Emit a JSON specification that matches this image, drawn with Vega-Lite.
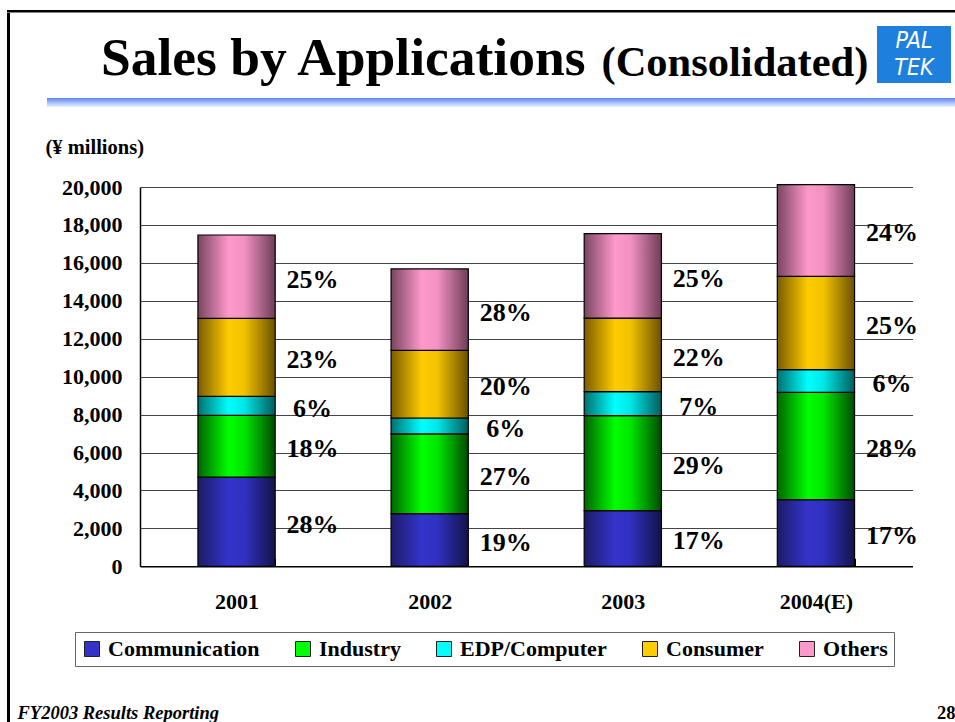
{
  "$schema": "https://vega.github.io/schema/vega-lite/v6.json",
  "background": "white",
  "padding": {"left": 7, "top": 10, "right": 0, "bottom": 0},
  "config": {"view": {"stroke": null}, "font": "Liberation Serif"},
  "bounds": "flush",
  "spacing": 0,
  "vconcat": [
    {"width": 948, "height": 2.5, "data": {"values": [{}]}, "mark": {"type": "rect", "color": "black"}, "encoding": {}},
    {
      "bounds": "flush", "spacing": 0,
      "hconcat": [
        {"width": 3, "height": 710, "data": {"values": [{}]}, "mark": {"type": "rect", "color": "black"}, "encoding": {}}
      ]
    },
    {
      "bounds": "flush", "spacing": 0,
      "hconcat": [
        {"width": 571, "height": 1, "data": {"values": [{}]}, "mark": {"type": "rect", "opacity": 0}, "encoding": {}},
        {
          "bounds": "flush", "spacing": 0,
          "vconcat": [
            {"width": 15, "height": 40, "data": {"values": [{}]}, "mark": {"type": "rect", "opacity": 0}, "encoding": {}},
            {"width": 15, "height": 44, "data": {"values": [{}]}, "mark": {"type": "text", "text": "Sales by Applications", "align": "right", "baseline": "alphabetic", "font": "Liberation Serif", "fontWeight": "bold", "fontSize": 53.5, "color": "black"}, "encoding": {}}
          ]
        },
        {"width": 16, "height": 1, "data": {"values": [{}]}, "mark": {"type": "rect", "opacity": 0}, "encoding": {}},
        {
          "bounds": "flush", "spacing": 0,
          "vconcat": [
            {"width": 15, "height": 42, "data": {"values": [{}]}, "mark": {"type": "rect", "opacity": 0}, "encoding": {}},
            {"width": 15, "height": 42, "data": {"values": [{}]}, "mark": {"type": "text", "text": "(Consolidated)", "align": "left", "baseline": "alphabetic", "font": "Liberation Serif", "fontWeight": "bold", "fontSize": 42.5, "color": "black"}, "encoding": {}}
          ]
        },
        {"width": 283, "height": 1, "data": {"values": [{}]}, "mark": {"type": "rect", "opacity": 0}, "encoding": {}},
        {
          "bounds": "flush", "spacing": 0,
          "vconcat": [
            {"width": 74, "height": 12.5, "data": {"values": [{}]}, "mark": {"type": "rect", "opacity": 0}, "encoding": {}},
            {
              "width": 74, "height": 57,
              "data": {"values": [{}]},
              "layer": [
                {"mark": {"type": "rect", "color": "#1f7fdc"}, "encoding": {}},
                {"mark": {"type": "text", "text": ["PAL", "TEK"], "lineHeight": 27, "dy": -13.5, "align": "center", "baseline": "middle", "font": "'Liberation Sans Narrow', 'DejaVu Sans Condensed', sans-serif", "fontStyle": "italic", "fontSize": 23, "color": "white"}, "encoding": {}}
              ]
            }
          ]
        }
      ]
    },
    {"width": 10, "height": 84.5, "data": {"values": [{}]}, "mark": {"type": "rect", "opacity": 0}, "encoding": {}},
    {
      "bounds": "flush", "spacing": 0,
      "hconcat": [
        {"width": 40, "height": 9, "data": {"values": [{}]}, "mark": {"type": "rect", "opacity": 0}, "encoding": {}},
        {"width": 908, "height": 9, "data": {"values": [{}]}, "mark": {"type": "rect", "fill": {"gradient": "linear", "x1": 0, "y1": 0, "x2": 0, "y2": 1, "stops": [{"offset": 0, "color": "#5c84ee"}, {"offset": 0.5, "color": "#a3bdf6"}, {"offset": 1, "color": "#eaf1ff"}]}}, "encoding": {}}
      ]
    },
    {"width": 10, "height": 89, "data": {"values": [{}]}, "mark": {"type": "rect", "opacity": 0}, "encoding": {}},
    {
      "bounds": "flush", "spacing": 0,
      "hconcat": [
        {"width": 133, "height": 10, "data": {"values": [{}]}, "mark": {"type": "rect", "opacity": 0}, "encoding": {}},
        {
          "width": 772.5,
          "height": 379.3,
          "data": {"values": [
            {"year": "2001", "cat": "Communication", "value": 4700, "label": "28%"},
            {"year": "2001", "cat": "Industry", "value": 3260, "label": "18%"},
            {"year": "2001", "cat": "EDP/Computer", "value": 1000, "label": "6%"},
            {"year": "2001", "cat": "Consumer", "value": 4110, "label": "23%"},
            {"year": "2001", "cat": "Others", "value": 4400, "label": "25%"},
            {"year": "2002", "cat": "Communication", "value": 2780, "label": "19%"},
            {"year": "2002", "cat": "Industry", "value": 4200, "label": "27%"},
            {"year": "2002", "cat": "EDP/Computer", "value": 840, "label": "6%"},
            {"year": "2002", "cat": "Consumer", "value": 3570, "label": "20%"},
            {"year": "2002", "cat": "Others", "value": 4290, "label": "28%"},
            {"year": "2003", "cat": "Communication", "value": 2940, "label": "17%"},
            {"year": "2003", "cat": "Industry", "value": 5010, "label": "29%"},
            {"year": "2003", "cat": "EDP/Computer", "value": 1260, "label": "7%"},
            {"year": "2003", "cat": "Consumer", "value": 3880, "label": "22%"},
            {"year": "2003", "cat": "Others", "value": 4450, "label": "25%"},
            {"year": "2004(E)", "cat": "Communication", "value": 3520, "label": "17%"},
            {"year": "2004(E)", "cat": "Industry", "value": 5650, "label": "28%"},
            {"year": "2004(E)", "cat": "EDP/Computer", "value": 1200, "label": "6%"},
            {"year": "2004(E)", "cat": "Consumer", "value": 4920, "label": "25%"},
            {"year": "2004(E)", "cat": "Others", "value": 4840, "label": "24%"}
          ]},
          "transform": [
            {"stack": "value", "groupby": ["year"], "as": ["y0", "y1"]}
          ],
          "encoding": {
            "x": {
              "field": "year", "type": "nominal",
              "scale": {"paddingInner": 0.6, "paddingOuter": 0.3},
              "axis": {
                "labelAngle": 0, "labelFont": "Liberation Serif", "labelFontSize": 22, "labelFontWeight": "bold", "labelColor": "black", "labelPadding": 33,
                "domainColor": "black", "domainWidth": 1.5,
                "ticks": true, "tickColor": "black", "tickSize": -8, "tickBand": "extent", "tickWidth": 1,
                "grid": false,
                "title": "FY2003 Results Reporting", "titleX": -123, "titleY": 152, "titleAlign": "left", "titleAnchor": "start", "titleBaseline": "alphabetic",
                "titleFont": "Liberation Serif", "titleFontStyle": "italic", "titleFontWeight": "bold", "titleFontSize": 18.5, "titleColor": "black"
              }
            }
          },
          "layer": [
            {
              "mark": {"type": "bar", "stroke": "black", "strokeWidth": 1.2},
              "encoding": {
                "y": {
                  "field": "y0", "type": "quantitative",
                  "scale": {"domain": [0, 20000], "nice": false},
                  "axis": {
                    "values": [0, 2000, 4000, 6000, 8000, 10000, 12000, 14000, 16000, 18000, 20000],
                    "format": ",d",
                    "labelFont": "Liberation Serif", "labelFontSize": 22, "labelFontWeight": "bold", "labelColor": "black", "labelPadding": 18,
                    "ticks": false,
                    "domainColor": "black", "domainWidth": 1.5,
                    "grid": true, "gridColor": "#444", "gridWidth": 1, "gridOpacity": 1,
                    "title": "(¥ millions)", "titleAngle": 0, "titleX": -95, "titleY": -40, "titleAlign": "left", "titleBaseline": "middle",
                    "titleFont": "Liberation Serif", "titleFontSize": 20.5, "titleFontWeight": "bold", "titleColor": "black"
                  }
                },
                "y2": {"field": "y1"},
                "fill": {
                  "field": "cat", "type": "nominal",
                  "scale": {
                    "domain": ["Communication", "Industry", "EDP/Computer", "Consumer", "Others"],
                    "range": ["#3333cc", "#00ff00", "#00ffff", "#ffcc00", "#ff99cc"]
                  },
                  "condition": [
                    {"test": "datum.cat === 'Communication'", "value": {"gradient": "linear", "x1": 0, "y1": 0, "x2": 1, "y2": 0, "stops": [{"offset": 0, "color": "#1c1c66"}, {"offset": 0.4, "color": "#3434cc"}, {"offset": 0.6, "color": "#3030c0"}, {"offset": 1, "color": "#13134a"}]}},
                    {"test": "datum.cat === 'Industry'", "value": {"gradient": "linear", "x1": 0, "y1": 0, "x2": 1, "y2": 0, "stops": [{"offset": 0, "color": "#006400"}, {"offset": 0.4, "color": "#00ff00"}, {"offset": 0.6, "color": "#00e600"}, {"offset": 1, "color": "#004a00"}]}},
                    {"test": "datum.cat === 'EDP/Computer'", "value": {"gradient": "linear", "x1": 0, "y1": 0, "x2": 1, "y2": 0, "stops": [{"offset": 0, "color": "#007070"}, {"offset": 0.4, "color": "#00ffff"}, {"offset": 0.6, "color": "#00e6e6"}, {"offset": 1, "color": "#005c5c"}]}},
                    {"test": "datum.cat === 'Consumer'", "value": {"gradient": "linear", "x1": 0, "y1": 0, "x2": 1, "y2": 0, "stops": [{"offset": 0, "color": "#7a5c00"}, {"offset": 0.4, "color": "#ffcc00"}, {"offset": 0.6, "color": "#f2c200"}, {"offset": 1, "color": "#6b5000"}]}},
                    {"test": "datum.cat === 'Others'", "value": {"gradient": "linear", "x1": 0, "y1": 0, "x2": 1, "y2": 0, "stops": [{"offset": 0, "color": "#7a4560"}, {"offset": 0.4, "color": "#ff99cc"}, {"offset": 0.6, "color": "#f291c2"}, {"offset": 1, "color": "#6e3d56"}]}}
                  ],
                  "legend": {
                    "orient": "none", "legendX": 68, "legendY": 622, "direction": "horizontal", "columns": 5, "title": null,
                    "symbolType": "square", "symbolSize": 225, "symbolStrokeColor": "#222", "symbolStrokeWidth": 1, "symbolOpacity": 1,
                    "labelFont": "Liberation Serif", "labelFontSize": 22, "labelFontWeight": "bold", "labelColor": "black", "labelOffset": 5, "labelLimit": 300,
                    "columnPadding": 32, "padding": 6, "strokeColor": "#666", "fillColor": "white"
                  }
                }
              }
            },
            {
              "transform": [
                {"fold": ["y0", "y1"], "as": ["edge", "pos"]},
                {"aggregate": [{"op": "mean", "field": "pos", "as": "mid"}], "groupby": ["year", "cat", "label"]}
              ],
              "mark": {"type": "text", "dx": 76, "dy": 3, "align": "center", "baseline": "middle", "font": "Liberation Serif", "fontSize": 26, "fontWeight": "bold", "color": "black"},
              "encoding": {
                "y": {
                  "field": "mid", "type": "quantitative",
                  "scale": {"domain": [0, 20000], "nice": false},
                  "axis": {
                    "orient": "right", "labels": false, "ticks": false, "domain": false, "grid": false,
                    "title": "28", "titleAngle": 0, "titleX": 24, "titleY": 531, "titleAlign": "left", "titleBaseline": "alphabetic",
                    "titleFont": "Liberation Serif", "titleFontSize": 18.5, "titleFontWeight": "bold", "titleColor": "black"
                  }
                },
                "text": {"field": "label"}
              }
            }
          ],
          "resolve": {"axis": {"y": "independent"}}
        }
      ]
    }
  ]
}
